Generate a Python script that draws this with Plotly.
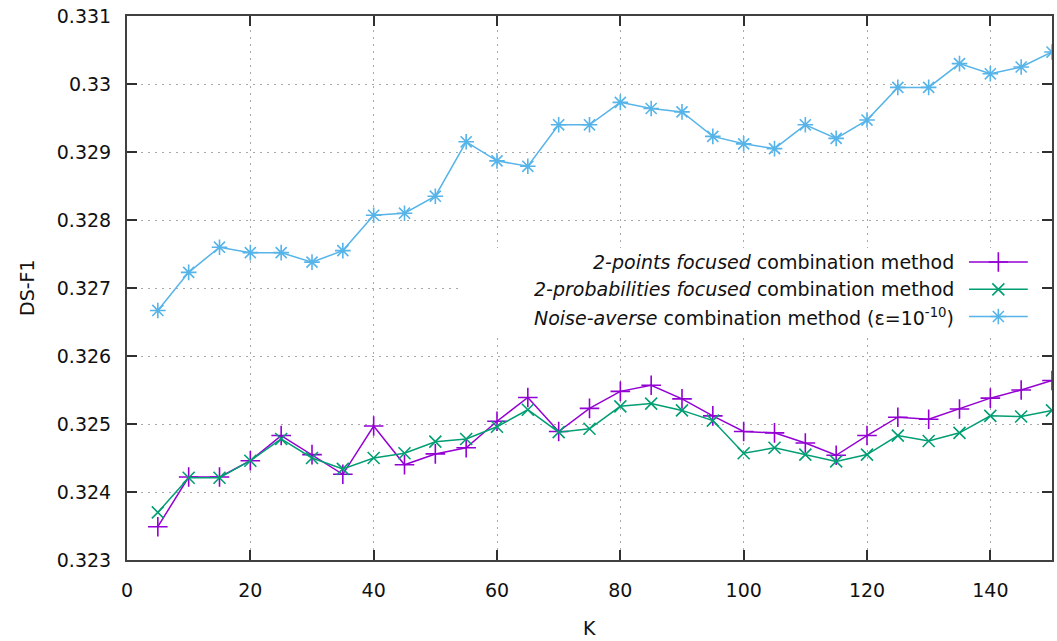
import plotly.graph_objects as go

# ---- data ----
K = [5, 10, 15, 20, 25, 30, 35, 40, 45, 50, 55, 60, 65, 70, 75,
     80, 85, 90, 95, 100, 105, 110, 115, 120, 125, 130, 135, 140, 145, 150]

points_focused = [0.32349, 0.32422, 0.32422, 0.32446, 0.32483, 0.32455, 0.32426, 0.32497,
                  0.32440, 0.32456, 0.32465, 0.32504, 0.32539, 0.32489, 0.32523,
                  0.32548, 0.32557, 0.32537, 0.32512, 0.32489, 0.32487, 0.32472,
                  0.32454, 0.32483, 0.32510, 0.32507, 0.32522, 0.32538, 0.32550, 0.32564]

probs_focused = [0.32370, 0.32421, 0.32421, 0.32446, 0.32478, 0.32450, 0.32434, 0.32450,
                 0.32457, 0.32474, 0.32478, 0.32496, 0.32521, 0.32488, 0.32493,
                 0.32526, 0.32530, 0.32520, 0.32505, 0.32457, 0.32465, 0.32455,
                 0.32445, 0.32455, 0.32483, 0.32475, 0.32487, 0.32512, 0.32511, 0.32520]

noise_averse = [0.32667, 0.32723, 0.32760, 0.32752, 0.32752, 0.32738, 0.32755, 0.32807,
                0.32810, 0.32835, 0.32915, 0.32887, 0.32879, 0.32940, 0.32940,
                0.32973, 0.32964, 0.32959, 0.32923, 0.32912, 0.32905, 0.32940,
                0.32920, 0.32947, 0.32995, 0.32995, 0.33030, 0.33015, 0.33025, 0.33047]

series_names = [
    "<i>2-points focused</i> combination method",
    "<i>2-probabilities focused</i> combination method",
    "<i>Noise-averse</i> combination method (\u03b5=10<sup>-10</sup>)",
]

y_tick_vals = [0.323, 0.324, 0.325, 0.326, 0.327, 0.328, 0.329, 0.330, 0.331]
y_tick_text = ["0.323", "0.324", "0.325", "0.326", "0.327", "0.328", "0.329", "0.33", "0.331"]
x_tick_vals = [0, 20, 40, 60, 80, 100, 120, 140]

# ---- styles ----
FONT = "DejaVu Sans"
FS = 19
colors = ["#9400d3", "#009e73", "#56b4e9"]
symbols = ["cross-thin", "x-thin", "asterisk"]
msizes = [14, 12, 13]
values = [points_focused, probs_focused, noise_averse]

fig = go.Figure()
for vals, c, s, ms in zip(values, colors, symbols, msizes):
    fig.add_trace(go.Scatter(
        x=K, y=vals, mode="lines+markers",
        line=dict(color=c, width=1.5),
        marker=dict(symbol=s, size=ms, color=c, line=dict(color=c, width=1.6)),
        showlegend=False, xaxis="x", yaxis="y"))

# legend box (white background) on an overlay axis in plot-fraction units
bx0, bx1, by0, by1 = 0.358, 0.998, 0.417, 0.5735
fig.add_trace(go.Scatter(
    x=[bx0, bx1, bx1, bx0, bx0], y=[by0, by0, by1, by1, by0],
    mode="lines", fill="toself", fillcolor="white", line=dict(width=0, color="white"),
    showlegend=False, hoverinfo="skip", xaxis="x2", yaxis="y2"))

row_y = [0.5478, 0.4976, 0.4476]
lx0, lx1, lxm = 0.9103, 0.9738, 0.9420
text_x = 0.8966
annotations = []
for name, c, s, ms, ry in zip(series_names, colors, symbols, msizes, row_y):
    fig.add_trace(go.Scatter(
        x=[lx0, lx1], y=[ry, ry], mode="lines", line=dict(color=c, width=1.5),
        showlegend=False, hoverinfo="skip", xaxis="x2", yaxis="y2"))
    fig.add_trace(go.Scatter(
        x=[lxm], y=[ry], mode="markers",
        marker=dict(symbol=s, size=ms, color=c, line=dict(color=c, width=1.6)),
        showlegend=False, hoverinfo="skip", xaxis="x2", yaxis="y2"))
    annotations.append(dict(
        x=text_x, y=ry, xref="x2", yref="y2", text=name, showarrow=False,
        xanchor="right", yanchor="middle", font=dict(family=FONT, size=FS, color="#111111")))

# axis titles
annotations.append(dict(x=0.5, y=0, xref="paper", yref="paper", yshift=-68, text="K",
                        showarrow=False, xanchor="center", yanchor="middle",
                        font=dict(family=FONT, size=FS, color="#111111")))
annotations.append(dict(x=0, y=0.5, xref="paper", yref="paper", xshift=-100, text="DS-F1",
                        textangle=-90, showarrow=False, xanchor="center", yanchor="middle",
                        font=dict(family=FONT, size=FS, color="#111111")))

axis_common = dict(
    showline=True, linecolor="#404040", linewidth=2, mirror="ticks",
    ticks="inside", ticklen=10, tickwidth=1.5, tickcolor="#303030",
    showgrid=True, gridcolor="#a8a8a8", gridwidth=1, griddash="2px,5px",
    zeroline=False, tickfont=dict(family=FONT, size=FS, color="#111111"),
)

fig.update_layout(
    width=1057, height=641,
    margin=dict(l=127, r=3, t=16, b=81),
    paper_bgcolor="white", plot_bgcolor="white",
    xaxis=dict(range=[0, 150], tickvals=x_tick_vals, ticklabelstandoff=12, **axis_common),
    yaxis=dict(range=[0.323, 0.331], tickvals=y_tick_vals, ticktext=y_tick_text,
               ticklabelstandoff=10, **axis_common),
    xaxis2=dict(range=[0, 1], overlaying="x", visible=False, fixedrange=True),
    yaxis2=dict(range=[0, 1], overlaying="y", visible=False, fixedrange=True),
    annotations=annotations,
    showlegend=False,
)

fig.write_html("out.html")
